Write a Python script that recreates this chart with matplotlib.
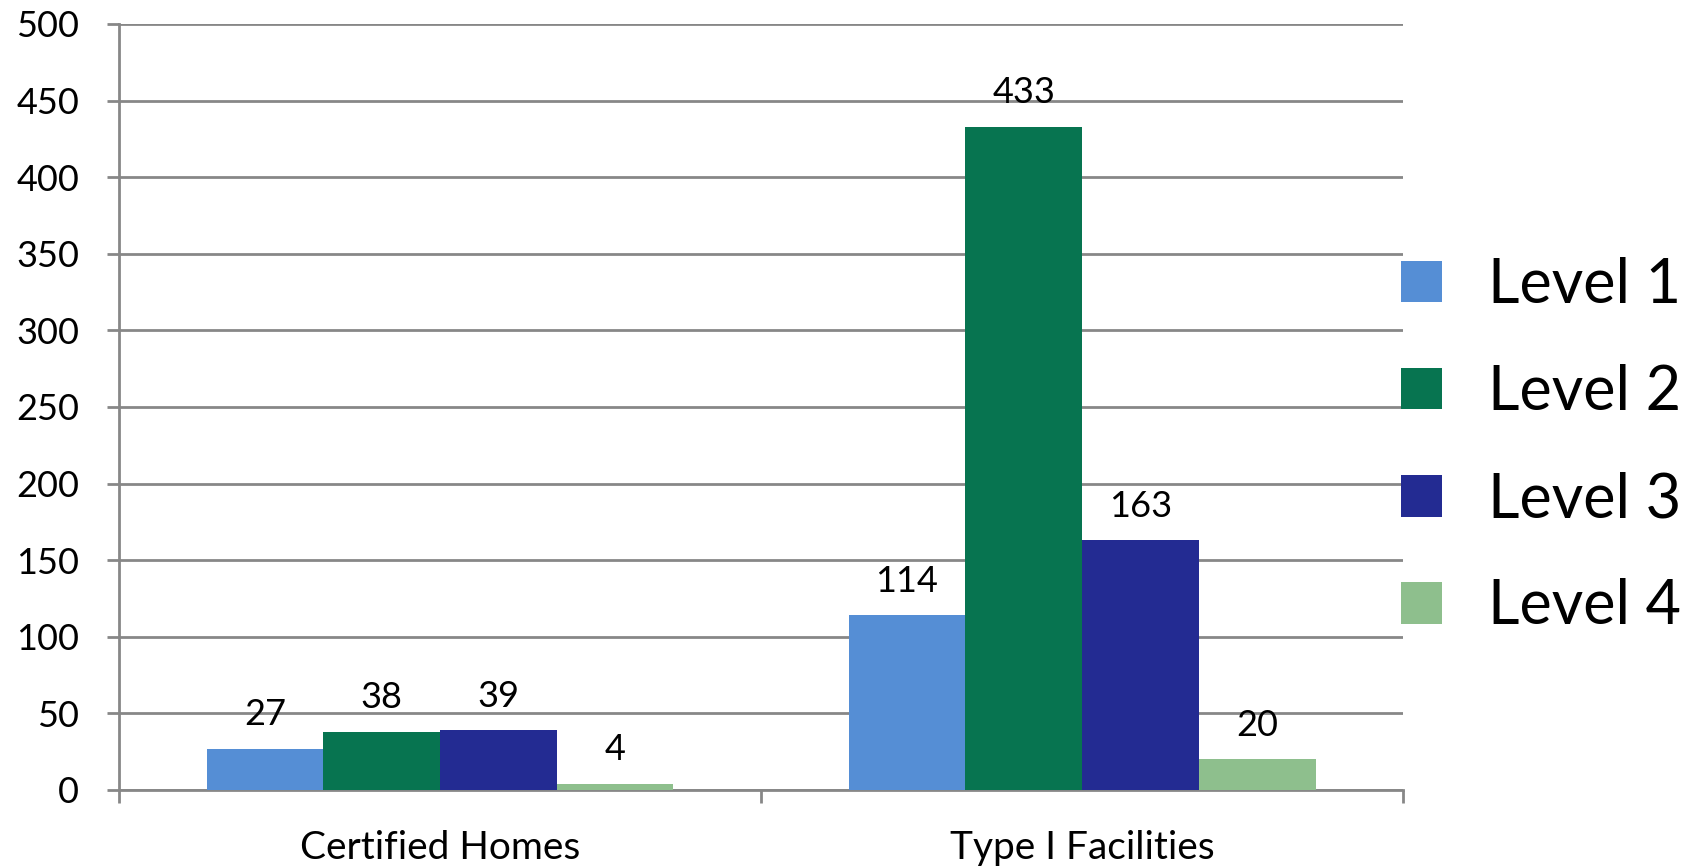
import numpy as np
from matplotlib import pyplot as plt

categories = ["Certified Homes", "Type I Facilities"]
levels = ["Level 1", "Level 2", "Level 3", "Level 4"]
level_1 = [27, 114]
level_2 = [38, 433]
level_3 = [39, 163]
level_4 = [4, 20]
colors = ["#558ED5", "#077450", "#232B92", "#8EBF8D"]

plt.rcParams["font.family"] = ["Lato", "DejaVu Sans"]
grid_color = "#878787"

fig = plt.figure(figsize=(16.88, 8.68), dpi=100)
ax = fig.add_axes([0.0705, 0.0899, 0.7607, 0.8825])

x = np.arange(len(categories))
width = 1 / 5.5
series = [level_1, level_2, level_3, level_4]
for i, (name, values, color) in enumerate(zip(levels, series, colors)):
    bars = ax.bar(x + (i - 1.5) * width, values, width, color=color, label=name, zorder=3)
    for rect, v in zip(bars, values):
        ax.annotate(
            str(v),
            (rect.get_x() + rect.get_width() / 2, rect.get_height()),
            xytext=(0, 17), textcoords="offset points",
            ha="center", va="baseline", fontsize=26,
        )

ax.set_xlim(-0.5, 1.5)
ax.set_ylim(0, 500)
ax.set_yticks(np.arange(0, 501, 50))
ax.yaxis.grid(True, color=grid_color, linewidth=2)
ax.set_axisbelow(True)

# category labels at major ticks (no marks), boundaries as minor ticks
ax.set_xticks(x)
ax.set_xticklabels(categories, fontsize=28)
ax.set_xticks([-0.5, 0.5, 1.5], minor=True)
ax.tick_params(axis="x", which="major", length=0, pad=29)
ax.tick_params(axis="x", which="minor", length=9, width=2, color=grid_color)
ax.tick_params(axis="y", length=8.6, width=2, color=grid_color, labelsize=26, pad=20)

for side in ["top", "right"]:
    ax.spines[side].set_visible(False)
for side in ["left", "bottom"]:
    ax.spines[side].set_color(grid_color)
    ax.spines[side].set_linewidth(2)

fig.legend(
    loc="center left", bbox_to_anchor=(0.830, 0.486), frameon=False,
    fontsize=44, handlelength=0.67, handleheight=0.67, handletextpad=0.75,
    labelspacing=0.82, borderpad=0, borderaxespad=0,
)

fig.savefig("out.png", dpi=100)
